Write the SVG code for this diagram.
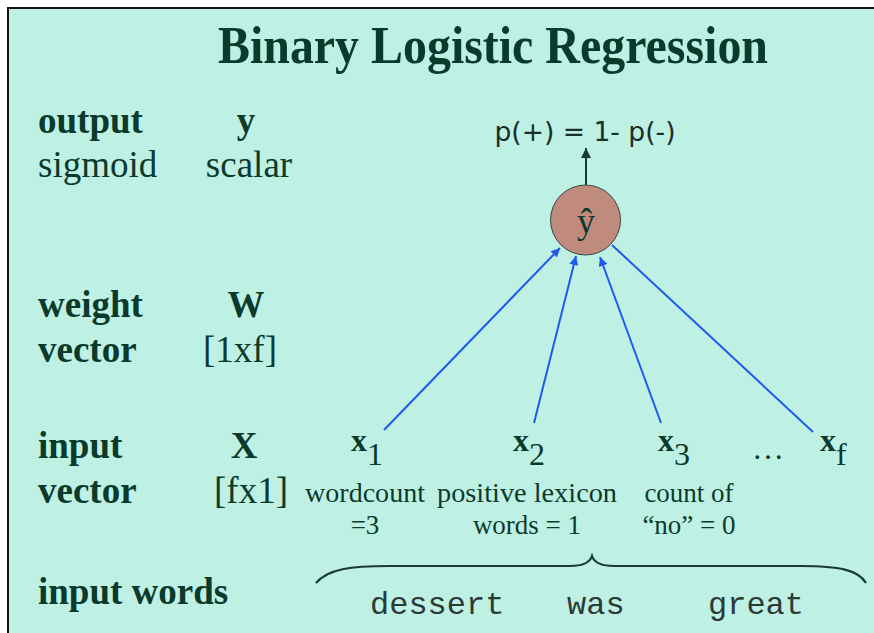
<svg xmlns="http://www.w3.org/2000/svg" width="874" height="633" viewBox="0 0 874 633">
<style>
.serif{font-family:"Liberation Serif","Times New Roman",serif;fill:#0b3a2c}
.b{font-weight:bold}
.lab{font-size:37px}
.feat{font-size:27px;text-anchor:middle}
.x{font-size:32px}
.mono{font-family:"Liberation Mono","Courier New",monospace;font-size:32px;fill:#2a3a36}
.edge{stroke:#1f5af0;stroke-width:2;fill:none}
</style>
<defs>
<marker id="ab" viewBox="0 0 10 10" refX="10" refY="5" markerWidth="10" markerHeight="9" markerUnits="userSpaceOnUse" orient="auto">
<path d="M0,0 L10,5 L0,10 z" fill="#1f5af0"/>
</marker>
<marker id="ak" viewBox="0 0 10 10" refX="10" refY="5" markerWidth="12" markerHeight="10" markerUnits="userSpaceOnUse" orient="auto">
<path d="M0,0 L10,5 L0,10 z" fill="#1a3a30"/>
</marker>
</defs>
<rect x="0" y="0" width="874" height="633" fill="#ffffff"/>
<rect x="8" y="8" width="870" height="630" fill="#bef1e3"/>
<line x1="8" y1="8" x2="874" y2="8" stroke="#111" stroke-width="2"/>
<line x1="8" y1="7" x2="8" y2="633" stroke="#111" stroke-width="2"/>

<text class="serif b" x="218" y="63" font-size="52" textLength="550" lengthAdjust="spacingAndGlyphs">Binary Logistic Regression</text>

<g id="labels">
<text class="serif b lab" x="38" y="133">output</text>
<text class="serif b lab" x="246" y="133" text-anchor="middle">y</text>
<text class="serif lab" x="38" y="177">sigmoid</text>
<text class="serif lab" x="249" y="177" text-anchor="middle">scalar</text>
<text class="serif b lab" x="38" y="317">weight</text>
<text class="serif b lab" x="246" y="317" text-anchor="middle">W</text>
<text class="serif b lab" x="38" y="362">vector</text>
<text class="serif lab" x="240" y="362" text-anchor="middle">[1xf]</text>
<text class="serif b lab" x="38" y="458">input</text>
<text class="serif b lab" x="244" y="458" text-anchor="middle">X</text>
<text class="serif b lab" x="38" y="503">vector</text>
<text class="serif lab" x="251" y="503" text-anchor="middle">[fx1]</text>
<text class="serif b lab" x="38" y="604">input words</text>
</g>

<g id="connectors">
<line class="edge" x1="384" y1="430" x2="560" y2="248" marker-end="url(#ab)"/>
<line class="edge" x1="534" y1="423" x2="576" y2="256" marker-end="url(#ab)"/>
<line class="edge" x1="661" y1="423" x2="600" y2="257" marker-end="url(#ab)"/>
<line class="edge" x1="813" y1="432" x2="612" y2="245"/>
<line x1="586" y1="185" x2="586" y2="148" stroke="#1a3a30" stroke-width="2" marker-end="url(#ak)"/>
</g>

<g id="output">
<text x="585" y="141" font-family="'DejaVu Sans',Verdana,sans-serif" font-size="26" fill="#1a2e2a" text-anchor="middle" textLength="181" lengthAdjust="spacingAndGlyphs">p(+) = 1- p(-)</text>
</g>

<g id="yhat">
<circle cx="585.5" cy="220" r="35" fill="#c08a7c" stroke="#2e4a40" stroke-width="1"/>
<text class="serif" x="586" y="233" font-size="36" text-anchor="middle" fill="#1d3530">ŷ</text>
</g>

<g id="x1">
<text class="serif x" x="351" y="451"><tspan font-weight="bold">x</tspan><tspan dy="14">1</tspan></text>
<text class="serif feat" x="365" y="502" textLength="120" lengthAdjust="spacingAndGlyphs">wordcount</text>
<text class="serif feat" x="365" y="534">=3</text>
</g>
<g id="x2">
<text class="serif x" x="513" y="451"><tspan font-weight="bold">x</tspan><tspan dy="14">2</tspan></text>
<text class="serif feat" x="527" y="502" textLength="180" lengthAdjust="spacingAndGlyphs">positive lexicon</text>
<text class="serif feat" x="527" y="534">words = 1</text>
</g>
<g id="x3">
<text class="serif x" x="658" y="451"><tspan font-weight="bold">x</tspan><tspan dy="14">3</tspan></text>
<text class="serif feat" x="689" y="502">count of</text>
<text class="serif feat" x="689" y="534">“no” = 0</text>
</g>
<g id="dots">
<text class="serif x" x="768" y="459" text-anchor="middle">…</text>
</g>
<g id="xf">
<text class="serif x" x="820" y="451"><tspan font-weight="bold">x</tspan><tspan dy="14">f</tspan></text>
</g>

<g id="words">
<path d="M316,583 C328,569 350,566 390,566 L570,566 C584,566 590,562 592,556 C594,562 600,566 614,566 L800,566 C840,566 858,570 866,583" fill="none" stroke="#1a3a30" stroke-width="2.2"/>
<text class="mono" x="370" y="614">dessert</text>
<text class="mono" x="567" y="614">was</text>
<text class="mono" x="708" y="614">great</text>
</g>
</svg>
